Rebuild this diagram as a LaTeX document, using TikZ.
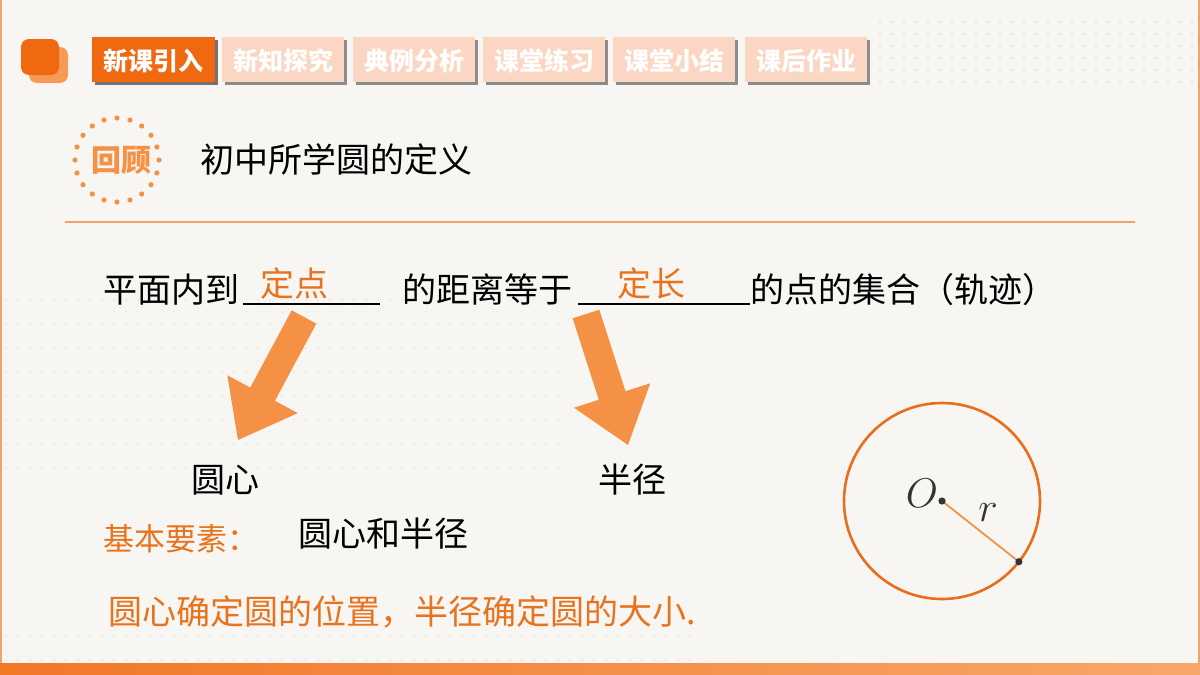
\documentclass[tikz,border=0pt]{standalone}
\usepackage{fontspec}
\setmainfont{Noto Sans CJK SC}
\usepackage{xcolor}
\definecolor{bgcream}{HTML}{F8F6F2}
\definecolor{tabactive}{HTML}{F0680F}
\definecolor{tabpale}{HTML}{FBD6C2}
\definecolor{arrowor}{HTML}{F59145}
\definecolor{textor}{HTML}{E8731E}
\definecolor{ruleor}{HTML}{F0A468}
\definecolor{circor}{HTML}{E86E1E}
\definecolor{iconback}{HTML}{F89A55}
\usepackage{tikz}
\usetikzlibrary{calc, arrows.meta}

% fat block arrow from #1 to tip #2
\newcommand{\fatarrow}[2]{%
	\coordinate (#1h) at ($(#2)!26pt!(#1)$);
	\fill[arrowor] ($(#1)!7pt!90:(#2)$) -- ($(#1h)!7pt!90:(#2)$) -- ($(#1h)!20pt!90:(#2)$) -- (#2)
	-- ($(#1h)!20pt!-90:(#2)$) -- ($(#1h)!7pt!-90:(#2)$) -- ($(#1)!7pt!-90:(#2)$) -- cycle;
}

\begin{document}
\begin{tikzpicture}[x=0.5pt, y=-0.5pt, thick,
	txt/.style={anchor=base west, inner sep=0pt, font=\fontsize{17pt}{20pt}\selectfont},
	tab/.style={anchor=center, inner sep=0pt, text=white, font=\fontsize{12.5pt}{15pt}\selectfont\bfseries}]
	
	\useasboundingbox (0,0) rectangle (1200,675);
	\fill[bgcream] (0,0) rectangle (1200,675);
	
	% dots
	\foreach \x in {880,892,...,1196} {
		\foreach \y in {22,34,...,90} {\fill[black!10] (\x,\y) circle[radius=0.7pt];}
	}
	\foreach \x in {6,18,...,560} {
		\foreach \y in {300,312,...,470} {\fill[black!9] (\x,\y) circle[radius=0.6pt];}
	}
	\foreach \x in {6,18,...,700} {
		\foreach \y in {636,648,660} {\fill[black!9] (\x,\y) circle[radius=0.6pt];}
	}
	
	% frame
	\draw[ruleor, line width=1pt] (1,0) -- (1,663);
	\draw[ruleor, line width=1pt] (1199,0) -- (1199,663);
	\shade[left color=tabactive!90, right color=arrowor!80] (0,663) rectangle (1200,675);
	
	% icon
	\fill[iconback, rounded corners=4pt] (29,47) rectangle (68,83);
	\fill[tabactive, rounded corners=4pt] (21,39) rectangle (59,75);
	
	% tabs
	\fill[black!55] (95,40) rectangle (218,85);
	\fill[tabactive] (92,37) rectangle (215,82);
	\node[tab] (t1) at (153,61) {新课引入};
	\foreach \x/\t [count=\i from 2] in {222/新知探究, 353/典例分析, 483/课堂练习, 613/课堂小结, 745/课后作业} {
		\fill[black!45] (\x+3,40) rectangle (\x+125,85);
		\fill[tabpale] (\x,37) rectangle (\x+122,82);
		\node[tab] (t\i) at (\x+61,61) {\t};
	}
	
	% review badge
	\foreach \a in {0,18,...,342} {\fill[arrowor] ($(117,160)+(\a:21pt)$) circle[radius=1.3pt];}
	\node[anchor=center, inner sep=0pt, text=arrowor, font=\fontsize{15pt}{18pt}\selectfont\bfseries] (rev) at (121,160) {回顾};
	\node[txt] (title) at (200,172) {初中所学圆的定义};
	\draw[ruleor, line width=1.2pt] (65,222) -- (1135,222);
	
	% definition
	\node[txt] (d1) at (103,302) {平面内到};
	\draw[line width=0.7pt] (243,304) -- (380,304);
	\node[txt, text=textor] (pt) at (260,296) {定点};
	\node[txt] (d2) at (402,302) {的距离等于};
	\draw[line width=0.7pt] (578,304) -- (750,304);
	\node[txt, text=textor] (len) at (617,296) {定长};
	\node[txt] (d3) at (750,302) {的点的集合（轨迹）};
	
	\coordinate (a1) at (304,317);
	\coordinate (a1t) at (238,440);
	\coordinate (a2) at (586,314);
	\coordinate (a2t) at (628,445);
	\fatarrow{a1}{a1t}
	\fatarrow{a2}{a2t}
	
	\node[txt] (ctr) at (191,492) {圆心};
	\node[txt] (rad) at (598,492) {半径};
	\node[txt, text=textor, font=\fontsize{15.5pt}{18pt}\selectfont] (key) at (103,550) {基本要素：};
	\node[txt] (keyv) at (298,546) {圆心和半径};
	\node[txt, text=textor] (sum) at (108,624) {圆心确定圆的位置，半径确定圆的大小.};
	
	% circle
	\coordinate (O) at (942,501);
	\draw[circor, line width=1.3pt] (O) circle[radius=49pt];
	\coordinate (P) at ($(O)+(-38.3:49pt)$);
	\draw[arrowor, line width=0.9pt] (O) -- (P);
	\fill[black!80] (O) circle[radius=1.8pt];
	\fill[black!80] (P) circle[radius=1.8pt];
	\node[text=black!80, font=\fontsize{20pt}{24pt}\selectfont] (Olab) at (922,493) {$O$};
	\node[text=black!80, font=\fontsize{20pt}{24pt}\selectfont] (rlab) at (988,513) {$r$};
\end{tikzpicture}
\end{document}
